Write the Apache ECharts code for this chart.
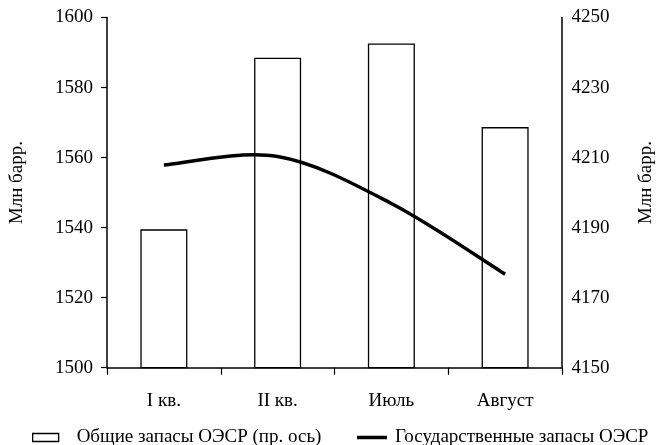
<!DOCTYPE html>
<html>
<head>
<meta charset="utf-8">
<script src="https://cdn.jsdelivr.net/npm/echarts@6/dist/echarts.min.js"></script>
<style>
  html, body { margin: 0; padding: 0; background: #fff; }
  #chart { width: 664px; height: 445px; }
</style>
</head>
<body>
<div id="chart"></div>
<script>
// Periods on the horizontal axis
const categories = ['I кв.', 'II кв.', 'Июль', 'Август'];
// Total OECD stocks, mln barrels (right axis, bars)
const totalStocks = [4189.5, 4238.5, 4242.6, 4218.7];
// Government OECD stocks, mln barrels (left axis, line)
const govStocks = [1557.9, 1560.3, 1546.9, 1526.7];

const barName = 'Общие запасы ОЭСР (пр. ось)';
const lineName = 'Государственные запасы ОЭСР';
const unitName = 'Млн барр.';

const FONT = '"Liberation Serif", "Times New Roman", serif';
const FS = 19;
const plain = v => String(v);

// Smooth Catmull-Rom curve through the line's points, projected by the chart axes
function renderSmoothLine(params, api) {
  if (params.dataIndex !== 0) return null;
  const pts = govStocks.map((v, i) => api.coord([i, v]));
  const n = pts.length;
  let d = 'M' + pts[0][0] + ',' + pts[0][1];
  for (let i = 0; i < n - 1; i++) {
    const p0 = pts[Math.max(i - 1, 0)];
    const p1 = pts[i];
    const p2 = pts[i + 1];
    const p3 = pts[Math.min(i + 2, n - 1)];
    const c1x = p1[0] + (p2[0] - p0[0]) / 6, c1y = p1[1] + (p2[1] - p0[1]) / 6;
    const c2x = p2[0] - (p3[0] - p1[0]) / 6, c2y = p2[1] - (p3[1] - p1[1]) / 6;
    d += ' C' + c1x + ',' + c1y + ' ' + c2x + ',' + c2y + ' ' + p2[0] + ',' + p2[1];
  }
  return {
    type: 'path',
    shape: { pathData: d },
    style: { fill: 'none', stroke: '#000', lineWidth: 3.5, lineCap: 'butt', lineJoin: 'round' }
  };
}

const chart = echarts.init(document.getElementById('chart'), null, { renderer: 'canvas' });

chart.setOption({
  animation: false,
  backgroundColor: '#fff',
  textStyle: { fontFamily: FONT, color: '#000' },
  grid: { left: 106, right: 97, top: 17.5, bottom: 77.3, containLabel: false },
  legend: [
    {
      left: 27, top: 423,
      data: [{ name: barName, icon: 'rect' }],
      itemWidth: 26, itemHeight: 8,
      itemStyle: { color: '#fff', borderColor: '#000', borderWidth: 1.3 },
      textStyle: { fontFamily: FONT, fontSize: FS, color: '#000', padding: [0, 0, 0, 13] },
      selectedMode: false
    },
    {
      left: 352, top: 423,
      data: [{ name: lineName, icon: 'rect' }],
      itemWidth: 30, itemHeight: 3.5,
      itemStyle: { color: '#000', borderWidth: 0 },
      textStyle: { fontFamily: FONT, fontSize: FS, color: '#000', padding: [0, 0, 0, 3] },
      selectedMode: false
    }
  ],
  xAxis: {
    type: 'category',
    data: categories,
    boundaryGap: true,
    axisLine: { show: true, lineStyle: { color: '#000', width: 1.5 } },
    axisTick: { show: true, length: 7, lineStyle: { color: '#000', width: 1.2 } },
    axisLabel: { fontFamily: FONT, fontSize: FS, color: '#000', margin: 24 },
    splitLine: { show: false }
  },
  yAxis: [
    {
      type: 'value',
      position: 'left',
      min: 1500, max: 1600, interval: 20,
      name: unitName,
      nameLocation: 'middle',
      nameRotate: 90,
      nameGap: 80,
      nameTextStyle: { fontFamily: FONT, fontSize: FS, color: '#000', padding: [0, 0, 0, 20] },
      axisLine: { show: true, lineStyle: { color: '#000', width: 1.5 } },
      axisTick: { show: true, length: 6, lineStyle: { color: '#000', width: 1.2 } },
      axisLabel: { fontFamily: FONT, fontSize: FS, color: '#000', margin: 14, formatter: plain },
      splitLine: { show: false }
    },
    {
      type: 'value',
      position: 'right',
      min: 4150, max: 4250, interval: 20,
      name: unitName,
      nameLocation: 'middle',
      nameRotate: 90,
      nameGap: 75,
      nameTextStyle: { fontFamily: FONT, fontSize: FS, color: '#000', padding: [0, 0, 0, 20] },
      axisLine: { show: true, lineStyle: { color: '#000', width: 1.5 } },
      axisTick: { show: false },
      axisLabel: { fontFamily: FONT, fontSize: FS, color: '#000', margin: 9.5, formatter: plain },
      splitLine: { show: false }
    }
  ],
  series: [
    {
      name: barName,
      type: 'bar',
      yAxisIndex: 1,
      data: totalStocks,
      barWidth: 47,
      itemStyle: { color: '#fff', borderColor: '#000', borderWidth: 1.3 },
      z: 2
    },
    {
      name: lineName,
      type: 'custom',
      yAxisIndex: 0,
      data: govStocks.map((v, i) => [i, v]),
      encode: { x: 0, y: 1 },
      renderItem: renderSmoothLine,
      itemStyle: { color: '#000' },
      z: 3
    }
  ]
});
</script>
</body>
</html>
